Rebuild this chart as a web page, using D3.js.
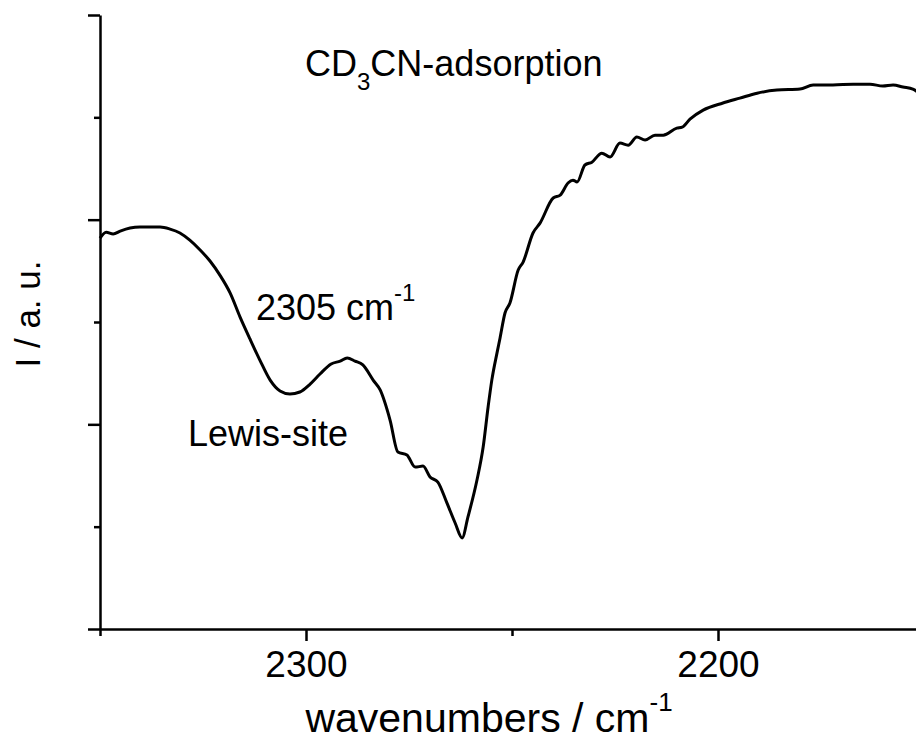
<!DOCTYPE html>
<html>
<head>
<meta charset="utf-8">
<script src="https://cdn.jsdelivr.net/npm/d3@7/dist/d3.min.js"></script>
<style>
  html, body { margin: 0; padding: 0; background: #fff; }
  svg { display: block; }
  text { font-family: "Liberation Sans", Arial, Helvetica, sans-serif; fill: #000; }
</style>
</head>
<body>
<svg id="chart" width="916" height="744"></svg>
<script>
// IR spectrum of adsorbed CD3CN (wavenumber in cm^-1, intensity in arbitrary units)
const wavenumbers = [
  2350.0, 2348.5, 2346.8, 2345.1, 2342.7, 2340.3, 2337.9, 2335.4, 2333.0, 2330.6,
  2328.2, 2325.7, 2323.3, 2320.9, 2318.4, 2316.0, 2313.6, 2311.2, 2308.7, 2306.3,
  2303.9, 2301.5, 2299.0, 2296.6, 2293.9, 2291.7, 2290.0, 2288.1, 2286.2, 2283.7,
  2282.0, 2279.6, 2277.7, 2275.5, 2273.5, 2271.6, 2269.9, 2268.0, 2265.8, 2263.8,
  2262.1, 2260.7, 2258.5, 2257.0, 2255.8, 2254.9, 2253.6, 2252.9, 2251.7, 2250.5,
  2248.5, 2247.3, 2244.9, 2243.2, 2240.0, 2238.3, 2236.4, 2235.2, 2234.2, 2232.3,
  2230.6, 2228.2, 2226.2, 2223.8, 2221.8, 2219.7, 2217.7, 2215.3, 2213.3, 2210.0,
  2208.7, 2206.8, 2203.6, 2198.8, 2194.7, 2190.5, 2185.7, 2180.1, 2176.9, 2172.1,
  2167.2, 2163.1, 2160.0, 2157.5, 2155.1, 2152.7, 2151.5
];
const intensity = [
  1.910, 1.939, 1.930, 1.944, 1.959, 1.964, 1.964, 1.964, 1.954, 1.935,
  1.900, 1.852, 1.798, 1.729, 1.641, 1.524, 1.417, 1.314, 1.216, 1.163,
  1.148, 1.158, 1.197, 1.246, 1.295, 1.309, 1.324, 1.309, 1.290, 1.216,
  1.168, 1.021, 0.865, 0.850, 0.791, 0.796, 0.743, 0.718, 0.616, 0.518,
  0.445, 0.547, 0.728, 0.889, 1.085, 1.216, 1.353, 1.422, 1.544, 1.593,
  1.754, 1.793, 1.935, 1.983, 2.106, 2.120, 2.179, 2.193, 2.184, 2.267,
  2.281, 2.325, 2.306, 2.374, 2.364, 2.404, 2.389, 2.413, 2.413, 2.447,
  2.452, 2.491, 2.535, 2.570, 2.594, 2.618, 2.633, 2.638, 2.658, 2.658,
  2.662, 2.662, 2.653, 2.658, 2.648, 2.638, 2.623
];

// Axis ticks
const xMajorTicks = [2300, 2200];
const xMinorTicks = [2350, 2250, 2150];
const yMajorTicks = [0, 1, 2, 3];
const yMinorTicks = [0.5, 1.5, 2.5];

const xDomain = [2350, 2150];
const yDomain = [0, 3];

const svg = d3.select("#chart");

const x = d3.scaleLinear().domain(xDomain).range([100, 924]);
const y = d3.scaleLinear().domain(yDomain).range([629, 15]);

const axisStroke = 2.5;

// Bottom axis: labelled majors plus unlabelled minors
const xAxisG = svg.append("g").attr("transform", `translate(0,${y(0)})`);
xAxisG.call(d3.axisBottom(x).tickValues(xMajorTicks).tickSize(12).tickSizeOuter(0).tickPadding(10)
  .tickFormat(d3.format("d")));
xAxisG.append("g").call(d3.axisBottom(x).tickValues(xMinorTicks).tickSize(7).tickFormat(""))
  .select(".domain").remove();

// Left axis: no labels
const yAxisG = svg.append("g").attr("transform", `translate(${x(2350)},0)`);
yAxisG.call(d3.axisLeft(y).tickValues(yMajorTicks).tickSize(12).tickSizeOuter(0).tickFormat(""));
yAxisG.append("g").call(d3.axisLeft(y).tickValues(yMinorTicks).tickSize(6).tickFormat(""))
  .select(".domain").remove();

svg.selectAll(".domain, .tick line")
  .attr("stroke", "#000")
  .attr("stroke-width", axisStroke);
svg.selectAll(".tick text")
  .attr("font-size", 37)
  .attr("font-family", "Liberation Sans, Arial, sans-serif")
  .attr("fill", "#000");

// Spectrum line
const pts = wavenumbers.map((w, i) => [w, intensity[i]]);
svg.append("path")
  .datum(pts)
  .attr("fill", "none")
  .attr("stroke", "#000")
  .attr("stroke-width", 3)
  .attr("stroke-linejoin", "round")
  .attr("d", d3.line().curve(d3.curveMonotoneX).x(d => x(d[0])).y(d => y(d[1])));

// Axis titles
const xTitle = svg.append("text")
  .attr("x", 489).attr("y", 732)
  .attr("text-anchor", "middle")
  .attr("font-size", 41);
xTitle.append("tspan").text("wavenumbers / cm");
xTitle.append("tspan").attr("dy", -21).attr("font-size", 26).text("-1");

svg.append("text")
  .attr("transform", "translate(40,314) rotate(-90)")
  .attr("text-anchor", "middle")
  .attr("font-size", 35)
  .text("I / a. u.");

// Annotations
const title = svg.append("text")
  .attr("x", 305).attr("y", 76)
  .attr("font-size", 36);
title.append("tspan").text("CD");
title.append("tspan").attr("dy", 14).attr("font-size", 24).text("3");
title.append("tspan").attr("dy", -14).text("CN-adsorption");

const peak = svg.append("text")
  .attr("x", 256).attr("y", 320)
  .attr("font-size", 36);
peak.append("tspan").text("2305 cm");
peak.append("tspan").attr("dy", -19).attr("font-size", 24).text("-1");

svg.append("text")
  .attr("x", 188).attr("y", 446)
  .attr("font-size", 36)
  .text("Lewis-site");
</script>
</body>
</html>
